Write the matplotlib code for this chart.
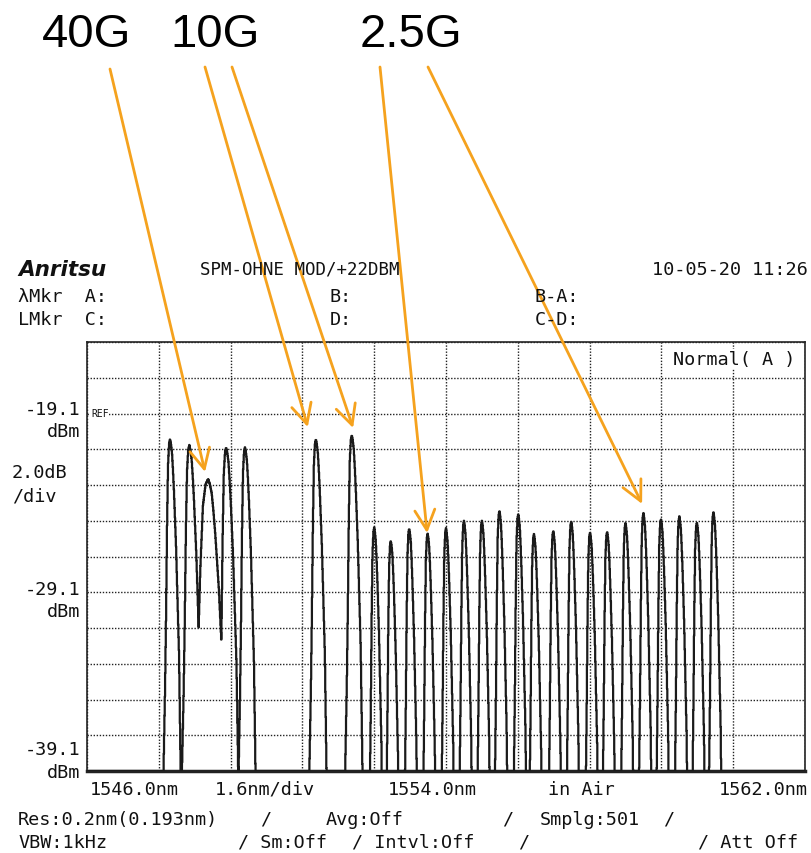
import matplotlib
matplotlib.use("Agg")
import matplotlib.pyplot as plt
import numpy as np

# channel data
ch40_nm = [1547.85, 1548.28, 1548.70, 1549.10, 1549.52]
ch40_dbm = [-20.53, -20.86, -22.76, -20.99, -20.99]
ch40_wl = [1.0, 1.15, 2.6, 1.15, 1.0]   # left side width factor
ch40_wr = [1.0, 1.15, 1.75, 1.15, 1.0]  # right side width factor

ch10_nm = [1551.10, 1551.90]
ch10_dbm = [-20.53, -20.30]
ch10_wl = [1.0, 1.0]
ch10_wr = [1.0, 1.0]

ch25_nm = [1552.40, 1552.77, 1553.18, 1553.59, 1554.00, 1554.40, 1554.80,
           1555.19, 1555.61, 1555.96, 1556.39, 1556.79, 1557.21, 1557.59,
           1558.00, 1558.40, 1558.79, 1559.20, 1559.59, 1559.96]
ch25_dbm = [-25.47, -26.22, -25.52, -25.79, -25.51, -25.10, -25.10, -24.54,
            -24.72, -25.84, -25.66, -25.13, -25.75, -25.71, -25.23, -24.67,
            -25.00, -24.85, -25.19, -24.63]
ch25_wl = [0.85] * 20
ch25_wr = [0.8] * 20

# shape of one channel as drawn on the screen (offset in nm, level below peak in dB)
shape_nm = [-0.20, -0.156, -0.111, -0.089, -0.067, -0.045, -0.022, 0.0,
            0.022, 0.045, 0.067, 0.089, 0.134, 0.200, 0.245, 0.290]
shape_db = [-26, -20, -14, -10, -5, -1.5, -0.3, 0,
            -0.3, -0.8, -1.8, -3, -6, -12, -20, -26]

# labels above the screen and where their arrows point (nm, dBm)
labels = ["40G", "10G", "2.5G"]
label_px = [(42, 35), (170, 35), (360, 35)]
arrow_start_px = [(110, 70), (205, 68), (232, 68), (380, 68), (428, 68)]
arrow_tip = [(1548.63, -22.37), (1550.92, -19.86), (1551.93, -19.91),
             (1553.58, -25.79), (1558.37, -24.16)]

x_start, x_stop, x_div = 1546.0, 1562.0, 1.6
y_ref, y_div = -19.1, 2.0
y_bottom, y_top = -39.1, -15.1

W, H = 812, 854
fig = plt.figure(figsize=(W / 100, H / 100), dpi=100)
ax = fig.add_axes([87 / W, 1 - 772 / H, (805 - 87) / W, (772 - 343) / H])

centers = ch40_nm + ch10_nm + ch25_nm
peaks = ch40_dbm + ch10_dbm + ch25_dbm
w_left = ch40_wl + ch10_wl + ch25_wl
w_right = ch40_wr + ch10_wr + ch25_wr

sn = np.array(shape_nm)
sd = np.array(shape_db)
wl = np.linspace(x_start, x_stop, 2001)
trace = np.full_like(wl, y_bottom)
for c, p, a, b in zip(centers, peaks, w_left, w_right):
    offs = np.where(sn < 0, sn * a, sn * b)
    prof = np.interp(wl, c + offs, p + sd, left=-80, right=-80)
    trace = np.maximum(trace, prof)

ax.plot(wl, trace, color="#1a1a1a", lw=1.6, drawstyle="steps-mid", zorder=3)

ax.set_xlim(x_start, x_stop)
ax.set_ylim(y_bottom, y_top)
ax.set_xticks(np.arange(x_start, x_stop + 0.01, x_div))
ax.set_yticks(np.arange(y_bottom, y_top + 0.01, y_div))
ax.tick_params(length=0, labelbottom=False, labelleft=False)
ax.grid(True, color="#222222", lw=1.0, linestyle=(0, (1, 1.2)))
for s in ax.spines.values():
    s.set_linewidth(1.2)
    s.set_color("#222222")
ax.spines["bottom"].set_linewidth(2.5)

mono = dict(family="DejaVu Sans Mono", fontsize=13.3, color="#111111")


def ftext(x, y, s, ha="left", **kw):
    opts = dict(mono)
    opts.update(kw)
    fig.text(x / W, 1 - y / H, s, ha=ha, va="center", **opts)


# header
ftext(18, 270, "Anritsu", fontweight="bold", style="italic", fontsize=15.5,
      family="DejaVu Sans")
ftext(200, 270, "SPM-OHNE MOD/+22DBM", fontsize=12.5)
ftext(808, 270, "10-05-20 11:26", ha="right")
ftext(18, 297, "\u03bbMkr  A:")
ftext(330, 297, "B:")
ftext(535, 297, "B-A:")
ftext(18, 320, "LMkr  C:")
ftext(330, 320, "D:")
ftext(535, 320, "C-D:")

# left scale
ftext(80, 410, "%.1f" % y_ref, ha="right")
ftext(80, 432, "dBm", ha="right")
ftext(12, 473, "%.1fdB" % y_div)
ftext(12, 497, "/div")
ftext(80, 590, "%.1f" % (y_ref - 5 * y_div), ha="right")
ftext(80, 612, "dBm", ha="right")
ftext(80, 750, "%.1f" % y_bottom, ha="right")
ftext(80, 773, "dBm", ha="right")
ftext(91, 414, "REF", fontsize=7,
      bbox=dict(fc="white", ec="none", pad=0.5))
ftext(795, 360, "Normal( A )", ha="right",
      bbox=dict(fc="white", ec="none", pad=1))

# bottom scale
ftext(90, 790, "%.1fnm" % x_start)
ftext(215, 790, "%.1fnm/div" % x_div)
ftext(388, 790, "%.1fnm" % (x_start + 5 * x_div))
ftext(548, 790, "in Air")
ftext(808, 790, "%.1fnm" % x_stop, ha="right")
ftext(18, 820, "Res:0.2nm(0.193nm)")
ftext(260, 820, "/")
ftext(326, 820, "Avg:Off")
ftext(502, 820, "/")
ftext(540, 820, "Smplg:501")
ftext(663, 820, "/")
ftext(18, 843, "VBW:1kHz")
ftext(238, 843, "/ Sm:Off")
ftext(352, 843, "/ Intvl:Off")
ftext(518, 843, "/")
ftext(798, 843, "/ Att Off", ha="right")

# big labels and arrows
for s, (x, y) in zip(labels, label_px):
    fig.text(x / W, 1 - y / H, s, ha="left", va="center",
             fontsize=34, family="Liberation Sans", color="black")

for (sx, sy), tip in zip(arrow_start_px, arrow_tip):
    ax.annotate("", xy=tip, xycoords="data",
                xytext=(sx, H - sy), textcoords="figure pixels",
                annotation_clip=False,
                arrowprops=dict(arrowstyle="->,head_length=0.9,head_width=0.45",
                                color="#F5A21E", lw=2, mutation_scale=16,
                                shrinkA=0, shrinkB=0),
                zorder=5)

fig.savefig("out.png", dpi=100)
